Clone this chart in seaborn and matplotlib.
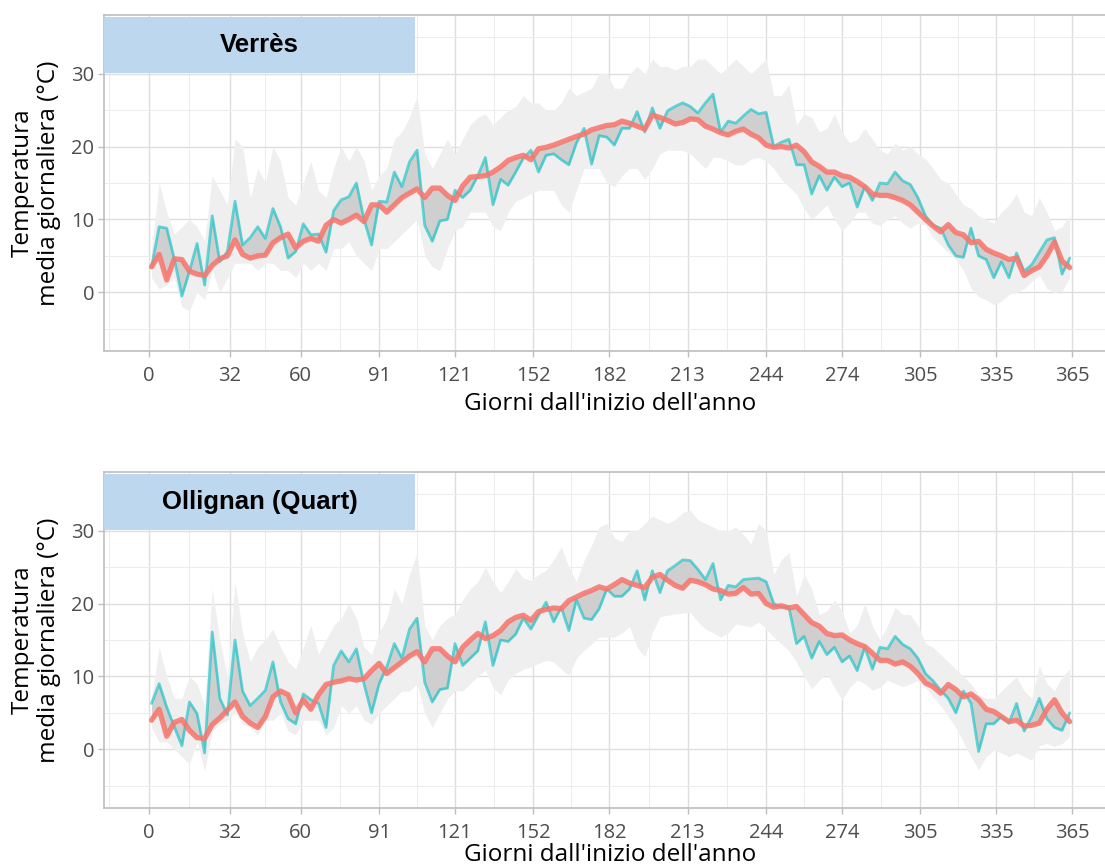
import matplotlib
matplotlib.use("Agg")
import matplotlib.pyplot as plt
from matplotlib.patches import Rectangle
from matplotlib.ticker import FixedLocator
import numpy as np
import pandas as pd
import seaborn as sns

# Giorni campionati (ogni 3 giorni dall'inizio dell'anno)
giorni = list(range(1, 365, 3))

stazioni = ["Verrès", "Ollignan (Quart)"]
tick_giorni = [0, 32, 60, 91, 121, 152, 182, 213, 244, 274, 305, 335, 365]
tick_temp = [0, 10, 20, 30]

# --- Verrès ---
verres_anno = [
    3.5, 9.0, 8.8, 4.6, -0.5, 2.9, 6.7, 1.0, 10.5, 4.2,
    5.6, 12.5, 6.5, 7.5, 9.0, 7.4, 11.5, 9.0, 4.7, 5.6,
    9.4, 7.9, 8.0, 5.5, 11.2, 12.7, 13.1, 15.0, 10.0, 6.5,
    12.5, 12.4, 16.5, 14.5, 17.9, 19.5, 9.2, 7.0, 9.8, 10.0,
    14.0, 13.0, 14.0, 16.0, 18.5, 12.0, 15.5, 14.7, 16.5, 18.4,
    19.5, 16.5, 18.8, 19.0, 18.2, 17.5, 20.5, 22.5, 17.6, 21.5,
    21.3, 20.2, 22.5, 22.5, 24.8, 22.0, 25.3, 22.5, 24.9, 25.5,
    26.0, 25.5, 24.6, 26.0, 27.2, 22.0, 23.5, 23.2, 24.2, 25.1,
    24.5, 24.7, 20.0, 20.6, 21.0, 17.5, 17.5, 13.5, 16.0, 14.0,
    15.8, 14.5, 15.0, 11.7, 14.5, 12.6, 15.0, 14.9, 16.5, 15.3,
    14.8, 13.0, 10.5, 9.2, 8.8, 6.5, 5.0, 4.8, 8.8, 5.0,
    4.5, 2.0, 4.2, 2.0, 5.4, 2.9, 3.8, 5.5, 7.2, 7.5,
    2.5, 4.7,
]
verres_media = [
    3.5, 5.2, 1.7, 4.6, 4.5, 2.9, 2.5, 2.3, 3.7, 4.6,
    5.0, 7.2, 5.2, 4.7, 5.0, 5.1, 6.8, 7.5, 8.0, 6.1,
    7.0, 7.4, 7.0, 9.2, 10.0, 9.5, 10.0, 10.6, 9.7, 12.0,
    12.0, 11.0, 12.0, 13.0, 13.6, 14.2, 13.0, 14.3, 14.3, 13.3,
    12.6, 14.6, 15.8, 15.9, 16.0, 16.5, 17.2, 18.1, 18.5, 18.8,
    18.2, 19.7, 19.9, 20.2, 20.6, 21.0, 21.4, 21.7, 22.3, 22.6,
    22.9, 23.0, 23.5, 23.2, 22.8, 22.4, 24.3, 24.0, 23.6, 23.1,
    23.3, 23.8, 23.7, 22.8, 22.4, 21.9, 21.6, 22.1, 22.4, 21.7,
    21.2, 20.2, 19.9, 20.0, 19.8, 20.2, 19.3, 17.9, 17.3, 16.5,
    16.5, 16.0, 15.8, 15.2, 14.5, 13.5, 13.3, 13.3, 13.0, 12.6,
    12.0, 11.0, 10.0, 9.1, 8.3, 9.3, 8.2, 7.9, 6.8, 7.0,
    5.9, 5.4, 5.0, 4.5, 4.7, 2.3, 3.0, 3.5, 5.0, 6.9,
    4.3, 3.4,
]
verres_min = [
    2, 0.5, 1, 2, -2, -2.5, 0, -1, 3, 0,
    2, 4, 4, 4, 3, 4, 4, 3, 3, 2,
    4, 3, 4, 3, 6, 6, 7, 5, 4, 3,
    6, 6, 7, 8, 9, 10, 5, 3.5, 3, 6,
    8.5, 9, 11, 11, 11, 9, 8.5, 11, 12.5, 13,
    13.5, 14, 14, 14, 12, 11, 14, 17, 17, 17,
    15, 14.5, 16, 17, 17, 15.5, 17, 19, 19.5, 19.5,
    19.5, 19, 18, 17, 18.5, 18.5, 18, 17.5, 17.5, 18.3,
    18.5, 18, 17, 15.5, 14.5, 13.5, 11.5, 10, 11, 12,
    10, 8.5, 9.5, 11, 11, 9.5, 9.2, 10, 10.5, 9.5,
    8.8, 9.5, 9.2, 7.5, 6.5, 5.5, 4.5, 3, 0.6, -0.6,
    -1, -1.7, -1.2, -0.3, 0, 0.5, 1.5, 2.4, 0.5, 0,
    0.2, 2,
]
verres_max = [
    6, 15, 11, 8, 9, 10, 9, 7, 16, 14,
    12, 21, 20, 13, 17, 15, 20, 18, 13, 12,
    15, 18, 14, 13, 17, 20, 18, 20, 18, 14,
    16, 17, 21, 22, 24, 27, 19, 17, 19, 21,
    19, 21, 23, 24, 24.5, 23, 24, 25, 25.5, 27,
    26, 26, 25, 25, 26, 28, 27, 27.5, 28, 30,
    30, 28, 28, 30, 31, 30, 32, 31, 31, 30.5,
    31, 31, 32, 32, 31, 30, 31, 32, 31, 30,
    31, 32, 27, 27, 28.5, 23, 24.5, 24, 22, 22.5,
    24.5, 22, 20.5, 21, 22.5, 21, 19.5, 19, 20.5, 19.5,
    20, 19, 18.3, 17, 15.5, 15, 13.5, 12, 11.5, 10.5,
    10, 9.5, 11, 12, 13.5, 11, 10.5, 13, 11, 8.5,
    9, 10.5,
]

# --- Ollignan (Quart) ---
ollignan_anno = [
    6.3, 9.0, 5.8, 3.1, 0.5, 6.5, 4.9, -0.5, 16.1, 7.0,
    4.7, 15.0, 8.0, 6.0, 7.0, 8.1, 12.0, 6.5, 4.2, 3.5,
    7.6, 6.8, 6.3, 3.0, 11.5, 13.5, 12.0, 13.8, 9.0, 5.0,
    9.0, 11.3, 14.5, 12.5, 16.5, 18.0, 9.2, 6.5, 8.2, 8.4,
    14.5, 11.5, 12.5, 13.5, 17.5, 11.5, 15.0, 14.8, 15.8, 18.0,
    16.5, 18.4, 20.2, 17.5, 19.5, 16.3, 20.5, 18.0, 17.8, 19.3,
    22.0, 21.0, 21.0, 22.0, 24.5, 20.5, 24.5, 21.5, 24.5, 25.2,
    26.0, 25.9, 24.7, 23.3, 25.5, 20.5, 22.5, 22.3, 23.3, 23.4,
    23.5, 23.0, 20.0, 19.5, 19.5, 14.5, 15.5, 12.5, 14.8, 13.0,
    14.0, 12.0, 12.8, 10.8, 14.0, 11.0, 14.0, 13.8, 15.5, 14.4,
    13.8, 12.5, 10.4, 9.4, 8.1, 7.0, 5.0, 8.0, 6.3, -0.3,
    3.5, 3.5, 4.5, 3.6, 6.3, 2.5, 4.5, 7.0, 4.2, 3.0,
    2.6, 5.0,
]
ollignan_media = [
    4.0, 5.5, 1.8, 3.7, 4.1, 2.6, 1.6, 1.5, 3.4, 4.3,
    5.4, 6.5, 4.5, 3.6, 3.0, 4.5, 7.2, 8.0, 7.5, 5.0,
    6.8, 5.5, 7.5, 8.9, 9.2, 9.4, 9.7, 9.5, 9.7, 10.8,
    11.8, 10.4, 11.2, 12.0, 12.8, 13.4, 12.0, 13.8, 13.8, 12.8,
    12.0, 14.0, 15.0, 15.9, 15.2, 15.6, 16.3, 17.5, 18.1, 18.4,
    17.7, 18.9, 19.2, 19.4, 19.3, 20.4, 20.9, 21.4, 21.8, 22.3,
    22.0, 22.6, 23.3, 22.8, 22.5, 22.2, 23.6, 24.0, 23.2, 22.5,
    22.1, 23.2, 23.0, 22.6, 22.0, 21.8, 21.3, 21.4, 22.2, 21.3,
    21.4, 20.0, 19.5, 19.7, 19.4, 19.6, 18.5, 17.4, 16.9, 15.9,
    15.6, 15.7, 15.0, 14.5, 14.1, 13.2, 12.2, 12.2, 11.7, 12.0,
    11.4, 10.4, 9.1, 8.6, 7.7, 8.9, 8.2, 7.2, 7.6, 6.8,
    5.5, 5.2, 4.5, 3.8, 4.0, 3.2, 3.3, 3.6, 5.5, 6.8,
    5.0, 3.8,
]
ollignan_min = [
    3, 1, 1, 0, -1, -2, 1, -3, 2.5, 3.5,
    4, 5, 3.5, 3, 2, 4, 4, 5, 2.5, 2,
    4, 4, 4, 2, 3, 6, 5, 6, 4, 3.5,
    5, 6, 7, 8, 8, 9, 5, 3, 5, 7,
    8, 8, 9, 10, 10.9, 8.5, 7.5, 9.5, 10.4, 11,
    11.3, 11.8, 12.2, 12, 11, 10.2, 12.5, 13.6, 14.5, 15.4,
    15.4, 15.4, 16, 16.8, 14, 12.7, 16, 18.2, 18.4, 18.6,
    18.7, 18.8, 17.5, 16.5, 16, 15.4, 16, 17.2, 17, 16.8,
    17.5, 16.5, 15.4, 14.5, 13.5, 12, 10, 8.3, 9.5, 10.4,
    8.5, 6.8, 8.5, 9.5, 9, 8.1, 8.5, 9.5, 9, 8.6,
    9, 9.5, 8.5, 7.2, 6, 4.5, 3, 1, -1, -2.8,
    -1, -0.1, -0.5, -1, -0.5, -1, -1.5, 0.5, 0.8, 0.4,
    0.8, 1.7,
]
ollignan_max = [
    7, 14, 10, 7, 7, 10, 9, 6, 22, 15,
    10, 23, 16, 12, 14, 15, 16.5, 14, 12, 11,
    14, 17, 13, 15, 17, 18, 20, 18, 14, 13,
    16, 18, 22, 20, 24, 27, 17, 15, 17, 18,
    18.5, 20.5, 22, 23, 25, 23, 21.5, 23, 24.8, 23.5,
    23.2, 24, 24.6, 26, 27.8, 25, 23, 25.9, 28, 30.5,
    31, 29, 28.5, 30, 30, 31, 32, 31.5, 31, 31.5,
    32.5, 32.8, 31.5, 31, 30.5, 30, 30, 30.5, 29.5, 28.2,
    31, 30, 24, 26, 27, 21, 24, 22, 18.5, 19,
    20.5, 19, 16, 17, 20, 17, 15, 17, 19.5, 18.5,
    18.5, 17, 14.5, 14, 13, 12, 11, 10, 9, 7.5,
    7, 7, 8, 9, 10, 8, 7, 11.5, 9, 8,
    10, 11,
]

sns.set_theme(style="whitegrid")
plt.rcParams["font.family"] = ["Open Sans", "DejaVu Sans"]

# I pannelli proseguono leggermente oltre il bordo destro della figura
fig = plt.figure(figsize=(11.05, 8.68), dpi=100)
ax_top = fig.add_axes([0.0941, 0.5956, 0.9158, 0.3871])
ax_bot = fig.add_axes([0.0941, 0.0691, 0.9158, 0.3871])

serie = [
    (ax_top, stazioni[0], verres_anno, verres_media, verres_min, verres_max, 4),
    (ax_bot, stazioni[1], ollignan_anno, ollignan_media, ollignan_min, ollignan_max, 0),
]

for ax, nome, anno, media, tmin, tmax, pad_titolo in serie:
    df = pd.DataFrame({"giorno": giorni, "anno": anno, "media": media,
                       "tmin": tmin, "tmax": tmax})

    # intervallo storico min-max
    ax.fill_between(df["giorno"], df["tmin"], df["tmax"], color="#efefef",
                    lw=0, zorder=1)
    # scarto tra anno corrente e media
    ax.fill_between(df["giorno"], df["anno"], df["media"], color="#b0b0b0",
                    alpha=0.5, lw=0, zorder=2)
    sns.lineplot(data=df, x="giorno", y="anno", ax=ax, color="#00BFC4",
                 alpha=0.6, lw=2.0, zorder=3)
    sns.lineplot(data=df, x="giorno", y="media", ax=ax, color="#F8766D",
                 alpha=0.88, lw=3.8, zorder=4)

    ax.set_xlim(-17.8, 382.3)
    ax.set_ylim(-8.05, 38.05)
    ax.xaxis.set_major_locator(FixedLocator(tick_giorni))
    ax.yaxis.set_major_locator(FixedLocator(tick_temp))
    minori_x = [-16, 16, 46, 75.5, 106, 136.5, 167, 197.5, 228.5, 259, 289.5, 320, 350]
    ax.xaxis.set_minor_locator(FixedLocator(minori_x))
    ax.yaxis.set_minor_locator(FixedLocator([-5, 5, 15, 25, 35]))
    ax.set_xticklabels([str(t) for t in tick_giorni])
    ax.set_yticklabels([str(t) for t in tick_temp])

    ax.set_axisbelow(True)
    ax.grid(which="major", color="#dedede", lw=1.0)
    ax.grid(which="minor", color="#ececec", lw=0.7)

    for side in ["left", "top", "bottom"]:
        ax.spines[side].set_visible(True)
        ax.spines[side].set_color("#bdbdbd")
        ax.spines[side].set_linewidth(1.2)
    ax.spines["right"].set_visible(False)

    ax.tick_params(axis="both", which="major", bottom=True, left=True,
                   length=4, width=1, color="#bdbdbd", labelcolor="#4d4d4d",
                   labelsize=14.5)
    ax.tick_params(axis="x", which="major", pad=7)
    ax.tick_params(axis="y", which="major", pad=3)
    ax.tick_params(axis="both", which="minor", length=0)

    ax.set_xlabel("Giorni dall'inizio dell'anno", fontsize=17.5, color="black",
                  labelpad=pad_titolo)
    ax.set_ylabel("Temperatura\nmedia giornaliera (°C)", fontsize=17.5,
                  color="black", linespacing=1.15)
    ax.yaxis.set_label_coords(-0.042, 0.5)

    # etichetta della stazione
    ax.add_patch(Rectangle((0.0, 0.826), 0.3073, 0.169, transform=ax.transAxes,
                           facecolor="#BDD7EE", edgecolor="none", zorder=6,
                           clip_on=False))
    ax.text(0.1537, 0.91, nome, transform=ax.transAxes, ha="center",
            va="center", fontsize=18.5, fontweight="bold",
            family=["Liberation Sans", "DejaVu Sans"], color="black", zorder=7)

fig.savefig("out.png", dpi=100)
